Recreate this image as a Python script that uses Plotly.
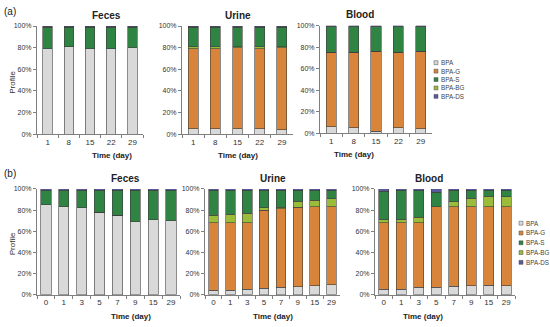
import plotly.graph_objects as go

# categories
days_a = ["1", "8", "15", "22", "29"]
days_b = ["0", "1", "3", "5", "7", "9", "15", "29"]
series_names = ["BPA", "BPA-G", "BPA-S", "BPA-BG", "BPA-DS"]
y_ticks = [0, 20, 40, 60, 80, 100]
y_ticklabels = ["0%", "20%", "40%", "60%", "80%", "100%"]

# (a) single dose profiles, %
feces_a_bpa = [79, 81, 79, 79, 80]
feces_a_g = [0, 0, 0, 0, 0]
feces_a_bg = [0, 0, 0, 0, 0]
feces_a_s = [20, 18, 20, 20, 19]
feces_a_ds = [1, 1, 1, 1, 1]

urine_a_bpa = [5, 5, 5, 5, 4]
urine_a_g = [74, 74, 75, 74, 76]
urine_a_bg = [2, 2, 1, 2, 1]
urine_a_s = [18, 18, 18, 18, 18]
urine_a_ds = [1, 1, 1, 1, 1]

blood_a_bpa = [6, 5, 2, 5, 4]
blood_a_g = [69, 70, 74, 70, 72]
blood_a_bg = [0, 0, 0, 0, 0]
blood_a_s = [24, 24, 23, 24, 23]
blood_a_ds = [1, 1, 1, 1, 1]

# (b) repeated dose profiles, %
feces_b_bpa = [85, 83, 82, 78, 75, 69, 71, 70]
feces_b_g = [0, 0, 0, 0, 0, 0, 0, 0]
feces_b_bg = [0, 0, 0, 0, 0, 0, 0, 0]
feces_b_s = [14, 16, 17, 21, 24, 30, 28, 29]
feces_b_ds = [1, 1, 1, 1, 1, 1, 1, 1]

urine_b_bpa = [4, 4, 5, 6, 7, 7.5, 8.5, 9.5]
urine_b_g = [64, 64, 63, 74, 74.5, 75, 74.5, 73.5]
urine_b_bg = [7, 8, 9, 2, 1, 6, 6.5, 7.5]
urine_b_s = [24, 23, 22, 17, 16.5, 10.5, 9.5, 8.5]
urine_b_ds = [1, 1, 1, 1, 1, 1, 1, 1]

blood_b_bpa = [5, 5, 7, 7, 8, 8.5, 9, 8.5]
blood_b_g = [63, 63, 61, 76, 75, 74.5, 74, 74.5]
blood_b_bg = [3, 3, 5, 0, 5, 8, 10, 9.5]
blood_b_s = [27, 28, 26, 14, 11, 8, 6, 6.5]
blood_b_ds = [2, 1, 1, 3, 1, 1, 1, 1]

colors = {
    "BPA": "#d9d9d9",
    "BPA-G": "#d8843a",
    "BPA-S": "#2f8444",
    "BPA-BG": "#9bbb3b",
    "BPA-DS": "#5a5a9a",
}

W, H = 550, 327


def px_x(v):
    return v / W


def px_y(v):
    return 1 - v / H


FONT = "Liberation Sans, Arial, sans-serif"

# title, categories, stack (bottom->top), x px range, y px (100%, 0%), bar width
panels = [
    ("Feces", days_a, [("BPA", feces_a_bpa), ("BPA-G", feces_a_g), ("BPA-BG", feces_a_bg),
                       ("BPA-S", feces_a_s), ("BPA-DS", feces_a_ds)], (37, 143), (22.5, 133), 0.45),
    ("Urine", days_a, [("BPA", urine_a_bpa), ("BPA-G", urine_a_g), ("BPA-BG", urine_a_bg),
                       ("BPA-S", urine_a_s), ("BPA-DS", urine_a_ds)], (182, 293), (22.5, 133), 0.45),
    ("Blood", days_a, [("BPA", blood_a_bpa), ("BPA-G", blood_a_g), ("BPA-BG", blood_a_bg),
                       ("BPA-S", blood_a_s), ("BPA-DS", blood_a_ds)], (320, 432), (22, 132), 0.45),
    ("Feces", days_b, [("BPA", feces_b_bpa), ("BPA-G", feces_b_g), ("BPA-BG", feces_b_bg),
                       ("BPA-S", feces_b_s), ("BPA-DS", feces_b_ds)], (37, 180), (189, 297), 0.57),
    ("Urine", days_b, [("BPA", urine_b_bpa), ("BPA-G", urine_b_g), ("BPA-BG", urine_b_bg),
                       ("BPA-S", urine_b_s), ("BPA-DS", urine_b_ds)], (205, 340), (189, 297), 0.57),
    ("Blood", days_b, [("BPA", blood_b_bpa), ("BPA-G", blood_b_g), ("BPA-BG", blood_b_bg),
                       ("BPA-S", blood_b_s), ("BPA-DS", blood_b_ds)], (375, 515), (189, 297), 0.57),
]

fig = go.Figure()
annotations = []
shapes = []


def label(text, x, y, size, color="#222", **kw):
    d = dict(text=text, x=px_x(x), y=px_y(y), xref="paper", yref="paper", showarrow=False,
             yanchor="middle", font=dict(family=FONT, size=size, color=color))
    d.update(kw)
    annotations.append(d)


for i, (title, cats, stack, (x0, x1), (ytop, ybot), bw) in enumerate(panels, start=1):
    xa = "x" if i == 1 else f"x{i}"
    ya = "y" if i == 1 else f"y{i}"
    for name, vals in stack:
        fig.add_trace(go.Bar(
            x=cats, y=vals, name=name, xaxis=xa, yaxis=ya, width=bw,
            marker=dict(color=colors[name], line=dict(color="#3d3d3d", width=0.6)),
            showlegend=False,
        ))
    xkey = "xaxis" if i == 1 else f"xaxis{i}"
    ykey = "yaxis" if i == 1 else f"yaxis{i}"
    fig.update_layout({
        xkey: dict(domain=[px_x(x0), px_x(x1)], anchor=ya, type="category",
                   showline=True, linecolor="#7f7f7f", linewidth=1, tickangle=0,
                   ticks="outside", tickson="boundaries", ticklen=3, tickcolor="#7f7f7f",
                   tickfont=dict(family=FONT, size=8, color="#333"), showgrid=False),
        ykey: dict(domain=[px_y(ybot), px_y(ytop)], anchor=xa, range=[0, 100],
                   tickvals=y_ticks, ticktext=y_ticklabels, showline=True, linecolor="#7f7f7f",
                   linewidth=1, ticks="outside", ticklen=3, tickcolor="#7f7f7f",
                   tickfont=dict(family=FONT, size=7, color="#333"), showgrid=False,
                   zeroline=False),
    })
    xc = (x0 + x1) / 2
    label(f"<b>{title}</b>", xc, ytop - 11, 10)
    label("<b>Time (day)</b>", xc, ybot + 22, 8)

# y axis titles and panel labels
label("Profile", 6, 80, 8, "#333", textangle=-90)
label("Profile", 6, 245, 8, "#333", textangle=-90)
label("(a)", 2, 8, 10, xanchor="left")
label("(b)", 2, 173, 10, xanchor="left")

# compact legends (Excel style)
for lx, ly0, step in [(434, 60, 8.6), (519, 224, 10)]:
    for k, name in enumerate(series_names):
        yy = ly0 + k * step
        shapes.append(dict(type="rect", xref="paper", yref="paper",
                           x0=px_x(lx), x1=px_x(lx + 4), y0=px_y(yy + 2), y1=px_y(yy - 2),
                           fillcolor=colors[name], line=dict(color="#4d4d4d", width=0.5)))
        label(name, lx + 5, yy, 6.3, "#444", xanchor="left")

fig.update_layout(
    width=W, height=H, autosize=False,
    margin=dict(l=0, r=0, t=0, b=0),
    barmode="stack",
    paper_bgcolor="white", plot_bgcolor="white",
    annotations=annotations, shapes=shapes,
    showlegend=False,
)

fig.write_html("out.html", config={"displayModeBar": False},
               post_script="document.body.style.margin='0px';")
